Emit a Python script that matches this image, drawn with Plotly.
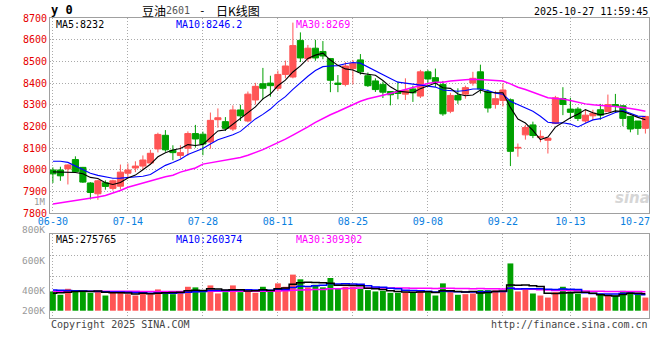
import pandas as pd
import plotly.graph_objects as go

# ---------------- data ----------------
holidays = ["2025-10-01", "2025-10-02", "2025-10-03", "2025-10-06", "2025-10-07", "2025-10-08"]
trade_days = [d for d in pd.bdate_range("2025-06-30", "2025-10-27")
              if d.strftime("%Y-%m-%d") not in holidays]
dates = [d.strftime("%m-%d") for d in trade_days]

opens = [8000, 8000, 8005, 8048, 8012, 7940, 7890, 7941, 7915, 7925,
         7985, 8009, 8018, 8032, 8097, 8160, 8091, 8067, 8100, 8168,
         8165, 8129, 8232, 8223, 8189, 8277, 8226, 8323, 8398, 8401,
         8377, 8441, 8429, 8598, 8514, 8562, 8547, 8514, 8401, 8395,
         8468, 8508, 8435, 8411, 8395, 8362, 8362, 8350, 8374, 8341,
         8453, 8426, 8395, 8271, 8344, 8350, 8401, 8453, 8362, 8302,
         8321, 8324, 8101, 8162, 8208, 8150, 8137, 8214, 8330, 8281,
         8281, 8226, 8250, 8278, 8269, 8302, 8296, 8247, 8226, 8192]
highs = [8012, 8015, 8026, 8063, 8014, 7944, 7955, 7952, 7955, 8025,
         8030, 8040, 8067, 8093, 8172, 8184, 8114, 8114, 8178, 8208,
         8177, 8265, 8284, 8244, 8298, 8301, 8362, 8402, 8471, 8435,
         8459, 8505, 8680, 8635, 8577, 8601, 8595, 8517, 8438, 8498,
         8508, 8535, 8450, 8423, 8408, 8362, 8408, 8423, 8389, 8462,
         8462, 8468, 8411, 8356, 8377, 8389, 8453, 8486, 8371, 8365,
         8400, 8330, 8122, 8208, 8223, 8183, 8147, 8342, 8382, 8333,
         8290, 8278, 8278, 8305, 8348, 8351, 8299, 8250, 8226, 8250]
lows = [7940, 7950, 7933, 7988, 7940, 7864, 7862, 7909, 7905, 7910,
        7965, 7990, 8000, 8030, 8081, 8084, 8045, 8052, 8066, 8103,
        8068, 8098, 8195, 8180, 8180, 8226, 8220, 8302, 8326, 8338,
        8365, 8423, 8423, 8498, 8500, 8504, 8511, 8359, 8359, 8386,
        8395, 8440, 8383, 8360, 8332, 8298, 8326, 8323, 8314, 8332,
        8395, 8383, 8250, 8262, 8305, 8329, 8389, 8353, 8265, 8283,
        8293, 8018, 8061, 8140, 8147, 8128, 8076, 8214, 8253, 8235,
        8226, 8217, 8229, 8232, 8269, 8266, 8202, 8174, 8162, 8168]
closes = [7982, 7973, 8023, 7992, 7944, 7896, 7950, 7924, 7950, 7990,
          8000, 8018, 8046, 8077, 8164, 8093, 8080, 8080, 8168, 8143,
          8120, 8229, 8241, 8192, 8277, 8250, 8350, 8386, 8377, 8389,
          8441, 8480, 8574, 8517, 8562, 8517, 8526, 8414, 8395, 8480,
          8492, 8453, 8389, 8371, 8359, 8347, 8353, 8368, 8356, 8453,
          8420, 8408, 8259, 8344, 8323, 8380, 8423, 8374, 8286, 8329,
          8369, 8086, 8104, 8196, 8159, 8155, 8147, 8333, 8302, 8266,
          8238, 8253, 8262, 8253, 8302, 8293, 8238, 8189, 8192, 8247]
volumes = [312000, 258000, 355000, 322000, 322000, 290000, 312000, 246000, 290000, 312000,
           268000, 246000, 290000, 268000, 345000, 312000, 268000, 312000, 388000, 378000,
           301000, 410000, 279000, 301000, 410000, 301000, 312000, 290000, 388000, 339000,
           443000, 388000, 585000, 509000, 378000, 421000, 378000, 530000, 355000, 388000,
           388000, 355000, 334000, 312000, 322000, 290000, 290000, 301000, 301000, 334000,
           301000, 246000, 443000, 301000, 258000, 268000, 279000, 334000, 334000, 334000,
           312000, 766000, 312000, 355000, 279000, 246000, 213000, 301000, 388000, 312000,
           279000, 213000, 213000, 279000, 246000, 246000, 322000, 312000, 279000, 213000]

ma5_head = [7991, 7991, 7991, 7988]
ma10_head = [8040, 8040, 8035, 8018, 8000, 7985, 7975, 7968, 7962]
ma30_head = [7843, 7848, 7853, 7858, 7866, 7870, 7875, 7882, 7893, 7905,
             7920, 7930, 7938, 7950, 7961, 7969, 7976, 7990, 8000, 8009,
             8027, 8033, 8039, 8045, 8051, 8058, 8068, 8080, 8094]
vma5_head = [283000, 290000, 300000, 310000]
vma10_head = [335000, 332000, 328000, 322000, 318000, 314000, 310000, 307000, 304000]
vma30_head = [315000, 315000, 316000, 316000, 316000, 315000, 315000, 315000, 314000, 314000,
              314000, 314000, 313000, 313000, 313000, 313000, 313000, 313000, 313000, 313000,
              314000, 314000, 314000, 314000, 314000, 314000, 314000, 314000, 314000]

tick_dates = ["06-30", "07-14", "07-28", "08-11", "08-25", "09-08", "09-22", "10-13"]
last_tick_date = "10-27"
price_ticks = [7800, 7900, 8000, 8100, 8200, 8300, 8400, 8500, 8600, 8700]
vol_tick_labels = ["1M", "800K", "600K", "400K", "200K"]
price_legend = ["MA5:8232", "MA10:8246.2", "MA30:8269"]
vol_legend = ["MA5:275765", "MA10:260374", "MA30:309302"]
title_name = "豆油"
title_code = "2601"
title_tail = "日K线图"
timestamp = "2025-10-27 11:59:45"

# ---------------- derived ----------------
def with_head(values, head, n):
    s = pd.Series(values, dtype=float).rolling(n).mean()
    return list(head) + s.iloc[n - 1:].tolist()

ma5 = with_head(closes, ma5_head, 5)
ma10 = with_head(closes, ma10_head, 10)
ma30 = with_head(closes, ma30_head, 30)
vma5 = with_head(volumes, vma5_head, 5)
vma10 = with_head(volumes, vma10_head, 10)
vma30 = with_head(volumes, vma30_head, 30)

x = list(range(len(dates)))
tick_pos = [dates.index(d) for d in tick_dates]

RED = "#ff5555"
GREEN = "#00a000"
MONO = "DejaVu Sans Mono"
W, H = 660, 360
ML, MR, MT, MB = 50, 11, 18, 42
PW, PH = W - ML - MR, H - MT - MB


def px(xp):
    return (xp - ML) / PW


def py(yp):
    return (H - MB - yp) / PH


fig = go.Figure()

fig.add_trace(go.Candlestick(
    x=x, open=opens, high=highs, low=lows, close=closes,
    increasing=dict(line=dict(color=RED, width=1), fillcolor=RED),
    decreasing=dict(line=dict(color=GREEN, width=1), fillcolor=GREEN),
    whiskerwidth=0, hoverinfo="skip", xaxis="x", yaxis="y"))

for vals, col, wd in [(ma30, "#ff00ff", 1.5), (ma10, "#0000ff", 1.1), (ma5, "#000000", 1.1)]:
    fig.add_trace(go.Scatter(x=x, y=vals, mode="lines", line=dict(color=col, width=wd),
                             hoverinfo="skip", xaxis="x", yaxis="y"))

bar_colors = [RED if c >= o else GREEN for o, c in zip(opens, closes)]
fig.add_trace(go.Bar(x=x, y=volumes, marker=dict(color=bar_colors, line=dict(width=0)),
                     hoverinfo="skip", xaxis="x2", yaxis="y2"))
for vals, col, wd in [(vma30, "#ff00ff", 1.5), (vma10, "#0000ff", 1.5), (vma5, "#000000", 1.5)]:
    fig.add_trace(go.Scatter(x=x, y=vals, mode="lines", line=dict(color=col, width=wd, shape="hvh"),
                             hoverinfo="skip", xaxis="x2", yaxis="y2"))

x_range = [-0.387, 79.48]
grid = dict(showgrid=True, gridcolor="#aaaaaa", gridwidth=1, griddash="1px,2px")
frame = dict(showline=True, mirror=True, linecolor="#a0a0a0", linewidth=1, zeroline=False,
             ticks="", fixedrange=True)

vol_lo, vol_hi = -118000, 1238000

fig.update_layout(
    width=W, height=H, margin=dict(l=ML, r=MR, t=MT, b=MB),
    paper_bgcolor="white", plot_bgcolor="white", showlegend=False,
    bargap=0.22, boxgap=0.18, boxgroupgap=0, hovermode=False,
    xaxis=dict(domain=[0, 1], anchor="y", range=x_range, tickvals=tick_pos, ticktext=tick_dates,
               tickfont=dict(family=MONO, size=10, color="#0a80e0"), ticklabelstandoff=-1,
               rangeslider=dict(visible=False), **grid, **frame),
    yaxis=dict(domain=[py(213.3), py(18.3)], anchor="x", range=[7800, 8700], tickvals=price_ticks,
               tickfont=dict(family=MONO, size=10, color="#e60000"), **grid, **frame),
    xaxis2=dict(domain=[0, 1], anchor="y2", range=x_range, tickvals=tick_pos,
                showticklabels=False, **grid, **frame),
    yaxis2=dict(domain=[0, py(234.3)], anchor="x2", range=[vol_lo, vol_hi],
                tickvals=[562000, 894000], showticklabels=False, **grid, **frame),
)

ann = []


def add(text, xp, yp, anchor="left", color="#000", size=10, family=MONO, **kw):
    ann.append(dict(text=text, x=px(xp), y=py(yp), xref="paper", yref="paper",
                    xanchor=anchor, yanchor="middle", showarrow=False,
                    font=dict(family=family, size=size, color=color), **kw))


add("<b>y 0</b>", 49, 10, size=12)
add(title_name, 140, 10, family="Noto Sans CJK SC", size=12)
add(title_code, 164, 10.5, color="#555555", size=10)
add("-", 197, 10, size=11)
add(title_tail, 214, 10, family="Noto Sans CJK SC", size=12)
add(timestamp, 650, 12, anchor="right", size=10)

leg_cols = ["#000000", "#0000ff", "#ff00ff"]
for t, c, xp in zip(price_legend, leg_cols, [54, 174, 294]):
    add(t, xp, 24, color=c)
for t, c, xp in zip(vol_legend, leg_cols, [54, 174, 294]):
    add(t, xp, 239, color=c)

for t, yp, fs in zip(vol_tick_labels, [202, 229.5, 260.7, 290.7, 310.7], [9, 9.5, 9.5, 9.5, 9.5]):
    add(t, 47, yp, anchor="right", color="#999999", size=fs)

add("Copyright 2025 SINA.COM", 49, 324, color="#444444")
add("http://finance.sina.com.cn", 650, 324, anchor="right", color="#444444")
add("<b><i>sina</i></b>", 652, 198, anchor="right", color="#d6d6d6", size=15, family="DejaVu Sans")

ann.append(dict(text=last_tick_date, x=dates.index(last_tick_date), xref="x", xshift=7,
                y=py(221.3), yref="paper", xanchor="right", yanchor="middle", showarrow=False,
                font=dict(family=MONO, size=10, color="#0a80e0")))

fig.update_layout(annotations=ann)
fig.write_html("out.html", config={"displayModeBar": False, "staticPlot": True},
               post_script="document.body.style.margin='0px';document.body.style.padding='0px';")
